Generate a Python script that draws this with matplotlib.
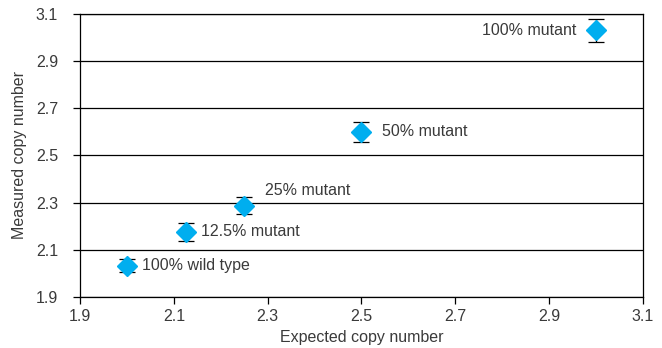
import matplotlib
matplotlib.use("Agg")
import matplotlib.pyplot as plt

# copy number: expected vs measured, with error bars
expected = [2.0, 2.125, 2.25, 2.5, 3.0]
measured = [2.032, 2.176, 2.287, 2.600, 3.030]
err = [0.028, 0.038, 0.036, 0.042, 0.050]
labels = ["100% wild type", "12.5% mutant", "25% mutant", "50% mutant", "100% mutant"]
# label offsets in points (dx, dy) and alignment
offsets = [(11, 0, "left"), (11, 0, "left"), (15, 11, "left"), (15, 0, "left"), (-14, 0, "right")]

ticks = [1.9, 2.1, 2.3, 2.5, 2.7, 2.9, 3.1]
txt = "#3a3a3a"
fs = 11.5

plt.rcParams["font.family"] = ["Liberation Sans", "DejaVu Sans"]
fig = plt.figure(figsize=(6.62, 3.48), dpi=100)
ax = fig.add_axes([0.121, 0.1466, 0.850, 0.8132])

for y in ticks:
    ax.axhline(y, color="black", lw=0.9, zorder=1)

ax.errorbar(expected, measured, yerr=err, fmt="none", ecolor="black",
            elinewidth=0.9, capsize=5.5, capthick=0.9, zorder=2)
ax.plot(expected, measured, "D", color="#00aeef", ms=10, mec="#00aeef", zorder=3, ls="none")

for x, y, lab, (dx, dy, ha) in zip(expected, measured, labels, offsets):
    ax.annotate(lab, (x, y), xytext=(dx, dy), textcoords="offset points",
                ha=ha, va="center", fontsize=fs, color=txt)

ax.set_xlim(1.9, 3.1)
ax.set_ylim(1.9, 3.1)
ax.set_xticks(ticks)
ax.set_yticks(ticks)
ax.set_xticklabels([f"{t:.1f}" for t in ticks])
ax.set_yticklabels([f"{t:.1f}" for t in ticks])
ax.tick_params(direction="out", length=5, width=0.9, labelsize=fs, labelcolor=txt)
ax.tick_params(axis="x", pad=4)
ax.tick_params(axis="y", pad=11)
for s in ax.spines.values():
    s.set_linewidth(0.9)

ax.set_xlabel("Expected copy number", fontsize=fs, color=txt, labelpad=4)
ax.set_ylabel("Measured copy number", fontsize=fs, color=txt, labelpad=6)

fig.savefig("out.png", dpi=100)
